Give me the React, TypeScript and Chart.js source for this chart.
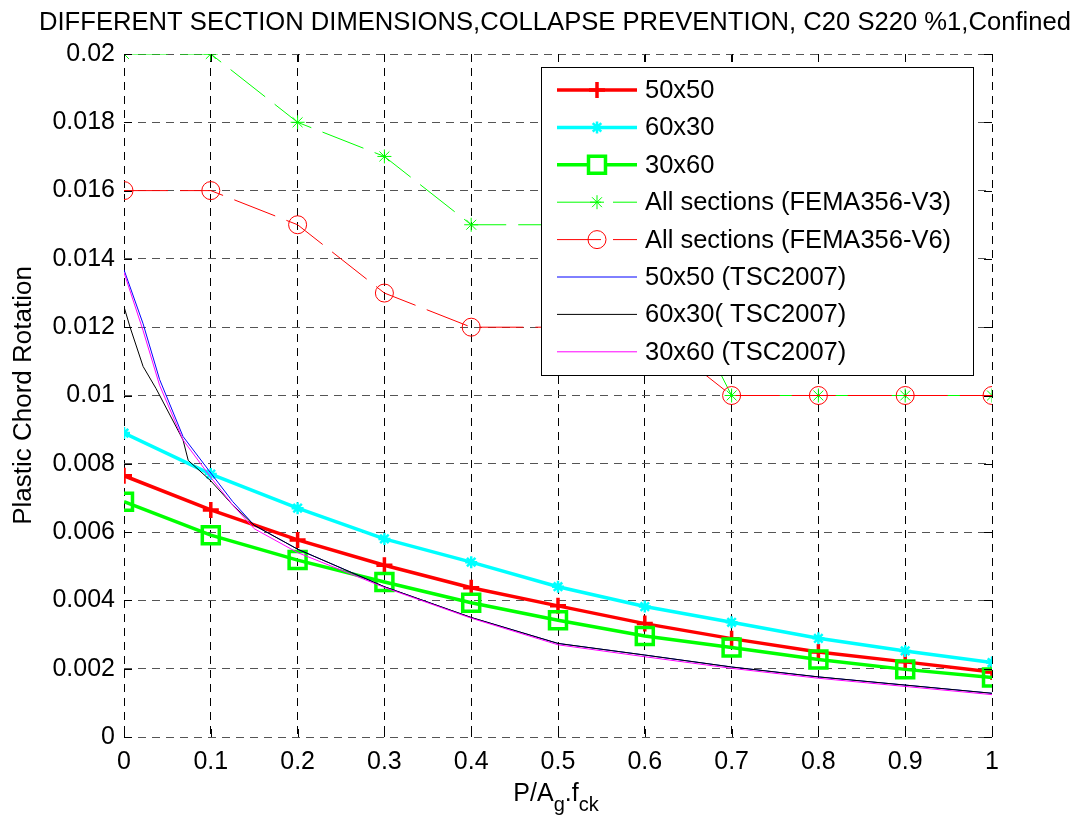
import React, { useEffect, useRef } from 'react';
import { Chart, registerables } from 'chart.js';

Chart.register(...registerables);

// ---- data ----
const xLoad = [0, 0.1, 0.2, 0.3, 0.4, 0.5, 0.6, 0.7, 0.8, 0.9, 1.0];
const rot50x50 = [0.00765, 0.00665, 0.00577, 0.00503, 0.00437, 0.00384, 0.00332, 0.00288, 0.00249, 0.0022, 0.0019];
const rot60x30 = [0.0089, 0.0077, 0.0067, 0.0058, 0.00512, 0.0044, 0.00382, 0.00336, 0.00289, 0.00252, 0.00218];
const rot30x60 = [0.00689, 0.00591, 0.00518, 0.00454, 0.00393, 0.00342, 0.00296, 0.00262, 0.00227, 0.00198, 0.00174];
const femaV3 = [0.02, 0.02, 0.018, 0.017, 0.015, 0.015, 0.015, 0.01, 0.01, 0.01, 0.01];
const femaV6 = [0.016, 0.016, 0.015, 0.013, 0.012, 0.012, 0.012, 0.01, 0.01, 0.01, 0.01];

const tscX50 = [0, 0.022, 0.041, 0.068, 0.1, 0.125, 0.15, 0.2, 0.3, 0.4, 0.5, 0.6, 0.7, 0.8, 0.9, 1.0];
const tsc50x50 = [0.01368, 0.0121, 0.01047, 0.0088, 0.00773, 0.0069, 0.0062, 0.0055, 0.0044, 0.0035, 0.00274, 0.0024, 0.00205, 0.00176, 0.00152, 0.00128];
const tscX60 = [0, 0.007, 0.022, 0.037, 0.068, 0.074, 0.1, 0.125, 0.15, 0.2, 0.3, 0.4, 0.5, 0.6, 0.7, 0.8, 0.9, 1.0];
const tsc60x30 = [0.0126, 0.012, 0.01085, 0.0102, 0.0087, 0.0081, 0.0075, 0.0068, 0.0062, 0.0055, 0.0044, 0.0035, 0.00274, 0.0024, 0.00205, 0.00176, 0.00152, 0.00128];
const tscX30 = [0, 0.022, 0.041, 0.068, 0.1, 0.125, 0.15, 0.2, 0.3, 0.4, 0.5, 0.6, 0.7, 0.8, 0.9, 1.0];
const tsc30x60 = [0.0136, 0.0119, 0.0103, 0.0087, 0.0076, 0.0068, 0.0061, 0.0054, 0.00438, 0.00348, 0.0027, 0.00235, 0.00201, 0.00172, 0.00148, 0.00124];

const seriesLabels = [
  '50x50',
  '60x30',
  '30x60',
  'All sections (FEMA356-V3)',
  'All sections (FEMA356-V6)',
  '50x50 (TSC2007)',
  '60x30( TSC2007)',
  '30x60 (TSC2007)',
];

const titleText = 'DIFFERENT SECTION DIMENSIONS,COLLAPSE PREVENTION, C20 S220 %1,Confined';
const yTitle = 'Plastic Chord Rotation';

const FONT = "'Liberation Sans', Arial, Helvetica, sans-serif";
const FEMA_DASH = [44, 12];
const GRID_DASH = [8, 6];

function pts(xs: number[], ys: number[]) {
  return xs.map((x, i) => ({ x, y: ys[i] }));
}

function drawMarker(ctx: CanvasRenderingContext2D, style: string, x: number, y: number, r: number, color: string, lw: number, fill: string | null) {
  ctx.save();
  ctx.strokeStyle = color;
  ctx.lineWidth = lw;
  ctx.setLineDash([]);
  ctx.beginPath();
  if (style === 'cross') {
    ctx.moveTo(x - r, y); ctx.lineTo(x + r, y);
    ctx.moveTo(x, y - r); ctx.lineTo(x, y + r);
  } else if (style === 'star') {
    ctx.moveTo(x - r, y); ctx.lineTo(x + r, y);
    ctx.moveTo(x, y - r); ctx.lineTo(x, y + r);
    const d = r * Math.SQRT1_2;
    ctx.moveTo(x - d, y - d); ctx.lineTo(x + d, y + d);
    ctx.moveTo(x - d, y + d); ctx.lineTo(x + d, y - d);
  } else if (style === 'rect') {
    const s = r * Math.SQRT1_2;
    ctx.rect(x - s, y - s, 2 * s, 2 * s);
    if (fill) { ctx.fillStyle = fill; ctx.fill(); }
  } else if (style === 'circle') {
    ctx.arc(x, y, r, 0, Math.PI * 2);
    if (fill) { ctx.fillStyle = fill; ctx.fill(); }
  }
  ctx.stroke();
  ctx.restore();
}

export default function App() {
  const ref = useRef<HTMLCanvasElement>(null);

  useEffect(() => {
    const canvas = ref.current;
    if (!canvas) return;

    const styles = [
      { color: '#ff0000', width: 3.5, dash: [] as number[], point: 'cross', r: 8, plw: 3.5 },
      { color: '#00ffff', width: 3.5, dash: [] as number[], point: 'star', r: 6, plw: 2.5 },
      { color: '#00ff00', width: 3.5, dash: [] as number[], point: 'rect', r: 12, plw: 3.5 },
      { color: '#00ff00', width: 1, dash: FEMA_DASH, point: 'star', r: 7, plw: 1 },
      { color: '#ff0000', width: 1, dash: FEMA_DASH, point: 'circle', r: 9, plw: 1 },
      { color: '#0000ff', width: 1, dash: [] as number[], point: '', r: 0, plw: 1 },
      { color: '#000000', width: 1, dash: [] as number[], point: '', r: 0, plw: 1 },
      { color: '#ff00ff', width: 1, dash: [] as number[], point: '', r: 0, plw: 1 },
    ];
    const dataArr = [
      pts(xLoad, rot50x50),
      pts(xLoad, rot60x30),
      pts(xLoad, rot30x60),
      pts(xLoad, femaV3),
      pts(xLoad, femaV6),
      pts(tscX50, tsc50x50),
      pts(tscX60, tsc60x30),
      pts(tscX30, tsc30x60),
    ];

    const datasets = dataArr.map((d, i) => {
      const s = styles[i];
      return {
        label: seriesLabels[i],
        data: d,
        borderColor: s.color,
        backgroundColor: s.color,
        borderWidth: s.width,
        borderDash: s.dash,
        tension: 0,
        fill: false,
        pointStyle: s.point || 'circle',
        pointRadius: s.r,
        pointHoverRadius: s.r,
        pointBorderWidth: s.plw,
        pointBorderColor: s.color,
        pointBackgroundColor: 'rgba(0,0,0,0)',
        order: 20 - i,
      };
    });

    const decor = {
      id: 'decor',
      afterDraw(chart: any) {
        const { ctx, chartArea } = chart;
        const { left, right, top, bottom } = chartArea;
        const xs = chart.scales.x;
        const ys = chart.scales.y;
        ctx.save();
        // inward ticks on all four sides
        ctx.strokeStyle = '#000';
        ctx.lineWidth = 1;
        ctx.setLineDash([]);
        ctx.beginPath();
        xs.ticks.forEach((t: any) => {
          const px = Math.round(xs.getPixelForValue(t.value)) + 0.5;
          ctx.moveTo(px, bottom); ctx.lineTo(px, bottom - 8);
          ctx.moveTo(px, top); ctx.lineTo(px, top + 8);
        });
        ys.ticks.forEach((t: any) => {
          const py = Math.round(ys.getPixelForValue(t.value)) + 0.5;
          ctx.moveTo(left, py); ctx.lineTo(left + 8, py);
          ctx.moveTo(right, py); ctx.lineTo(right - 8, py);
        });
        ctx.stroke();

        // title
        ctx.fillStyle = '#000';
        ctx.font = `25px ${FONT}`;
        ctx.textBaseline = 'alphabetic';
        ctx.textAlign = 'left';
        const tw = ctx.measureText(titleText).width;
        const targetW = 1032;
        const sx = targetW / tw;
        ctx.save();
        ctx.translate(555 - targetW / 2, 30);
        ctx.scale(sx, 1);
        ctx.fillText(titleText, 0, 0);
        ctx.restore();

        // y-axis title
        ctx.save();
        ctx.font = `26px ${FONT}`;
        ctx.translate(31, (top + bottom) / 2);
        ctx.rotate(-Math.PI / 2);
        ctx.textAlign = 'center';
        ctx.textBaseline = 'alphabetic';
        ctx.fillText(yTitle, 0, 0);
        ctx.restore();

        // x-axis title: P/A_g.f_ck
        const parts = [
          { t: 'P/A', sub: false },
          { t: 'g', sub: true },
          { t: '.f', sub: false },
          { t: 'ck', sub: true },
        ];
        const mainF = `25px ${FONT}`;
        const subF = `20px ${FONT}`;
        let total = 0;
        parts.forEach((p) => {
          ctx.font = p.sub ? subF : mainF;
          total += ctx.measureText(p.t).width;
        });
        let cx = (left + right) / 2 - 2 - total / 2;
        ctx.textAlign = 'left';
        parts.forEach((p) => {
          ctx.font = p.sub ? subF : mainF;
          ctx.fillText(p.t, cx, p.sub ? 811 : 801);
          cx += ctx.measureText(p.t).width;
        });

        // legend
        const lx = 541, ly = 67, lw = 432, lh = 308;
        ctx.fillStyle = '#fff';
        ctx.fillRect(lx, ly, lw, lh);
        ctx.strokeStyle = '#000';
        ctx.lineWidth = 1;
        ctx.setLineDash([]);
        ctx.strokeRect(lx + 0.5, ly + 0.5, lw, lh);
        const rowY0 = 90, rowStep = 37.4;
        styles.forEach((s, i) => {
          const yy = rowY0 + i * rowStep;
          ctx.save();
          ctx.strokeStyle = s.color;
          ctx.lineWidth = s.width;
          ctx.setLineDash(s.dash);
          ctx.beginPath();
          ctx.moveTo(557, yy);
          ctx.lineTo(637, yy);
          ctx.stroke();
          ctx.restore();
          if (s.point) {
            drawMarker(ctx, s.point, 597, yy, s.r, s.color, s.plw, s.point === 'rect' ? '#fff' : null);
          }
          ctx.fillStyle = '#000';
          ctx.font = `25.5px ${FONT}`;
          ctx.textAlign = 'left';
          ctx.textBaseline = 'middle';
          ctx.fillText(seriesLabels[i], 645, yy + 1);
        });
        ctx.restore();
      },
    };

    const chart = new Chart(canvas, {
      type: 'line',
      data: { datasets: datasets as any },
      options: {
        animation: false,
        responsive: false,
        maintainAspectRatio: false,
        layout: { padding: { top: 54, right: 86, bottom: 0, left: 0 } },
        plugins: {
          legend: { display: false },
          title: { display: false },
          tooltip: { enabled: false },
        },
        scales: {
          x: {
            type: 'linear',
            min: 0,
            max: 1,
            ticks: {
              stepSize: 0.1,
              autoSkip: false,
              maxRotation: 0,
              padding: 10,
              color: '#000',
              font: { family: FONT, size: 25 },
              callback: (v: any) => String(+(+v).toFixed(2)),
            },
            grid: { color: '#000', lineWidth: 1, drawTicks: false, borderDash: GRID_DASH } as any,
            border: { display: false, dash: GRID_DASH },
            afterFit: (s: any) => { s.height = 81; },
          },
          y: {
            type: 'linear',
            min: 0,
            max: 0.02,
            ticks: {
              stepSize: 0.002,
              autoSkip: false,
              padding: 9,
              color: '#000',
              font: { family: FONT, size: 25 },
              callback: (v: any) => String(+(+v).toFixed(4)),
            },
            grid: { color: '#555', lineWidth: 1, drawTicks: false, borderDash: GRID_DASH } as any,
            border: { display: false, dash: GRID_DASH },
            afterFit: (s: any) => { s.width = 124; },
          },
        },
      } as any,
      plugins: [decor],
    });

    return () => chart.destroy();
  }, []);

  return (
    <div style={{ position: 'fixed', left: 0, top: 0, width: 1078, height: 818, background: '#fff' }}>
      <canvas ref={ref} width={1078} height={818} style={{ display: 'block' }} />
    </div>
  );
}
